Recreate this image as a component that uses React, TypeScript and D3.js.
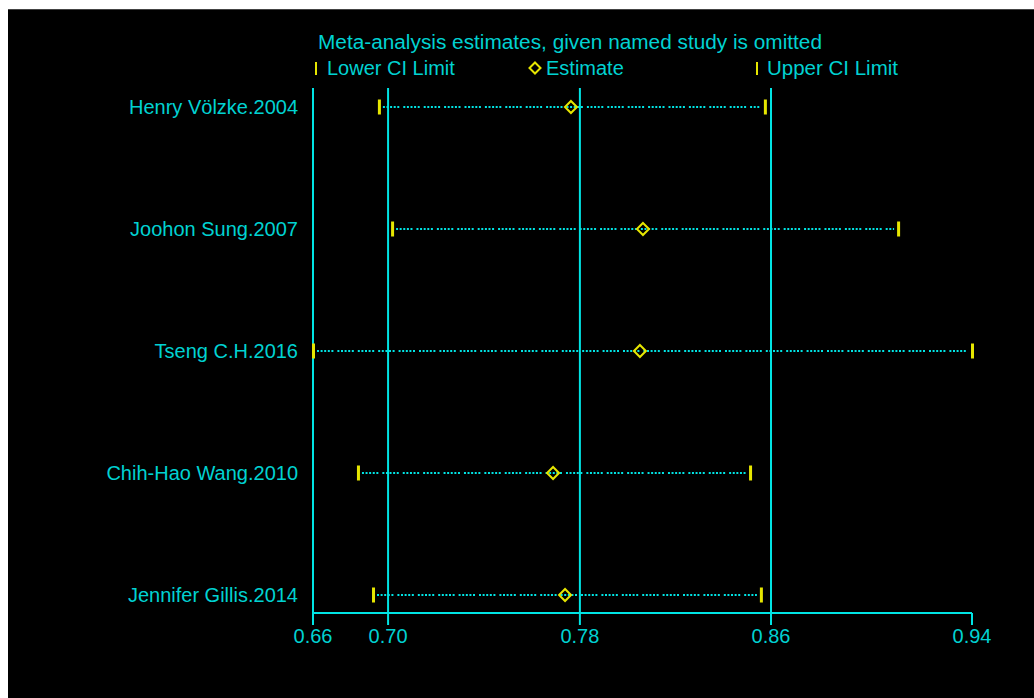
import React from 'react';
import * as d3 from 'd3';

// studies, in plotted order (top to bottom)
const studies = [
  'Henry Völzke.2004',
  'Joohon Sung.2007',
  'Tseng C.H.2016',
  'Chih-Hao Wang.2010',
  'Jennifer Gillis.2014',
];
// estimate with the named study omitted
const lowerCI = [0.688, 0.6936, 0.66, 0.6791, 0.6855];
const estimate = [0.7696, 0.8002, 0.7989, 0.762, 0.7671];
const upperCI = [0.852, 0.9086, 0.94, 0.8457, 0.8503];

// axis ticks: overall min, pooled CI lower, pooled estimate, pooled CI upper, overall max
const tickValues = [0.66, 0.6919, 0.7734, 0.8546, 0.94];
const tickLabels = ['0.66', '0.70', '0.78', '0.86', '0.94'];

const W = 1034;
const H = 698;
const CYAN_TXT = '#00d2d2';
const CYAN = '#00e4e4';
const YELLOW = '#e6e600';
const FONT = '"Liberation Sans", Arial, sans-serif';

export default function App() {
  const x = d3.scaleLinear().domain([0.66, 0.94]).range([313, 972]);
  const y = d3.scalePoint<string>().domain(studies).range([107, 595]);
  const axisY = 613;
  const gridTop = 88;

  const diamond = (cx: number, cy: number, r: number) =>
    `M${cx},${cy - r}L${cx + r},${cy}L${cx},${cy + r}L${cx - r},${cy}Z`;

  const rows = studies.map((s, i) => ({
    name: s,
    lo: lowerCI[i],
    est: estimate[i],
    hi: upperCI[i],
  }));

  return (
    <svg
      width={W}
      height={H}
      style={{ position: 'absolute', left: 0, top: 0, display: 'block' }}
      fontFamily={FONT}
    >
      <rect x={0} y={0} width={W} height={H} fill="#fff" />
      <rect x={8} y={9} width={W - 8} height={H - 9} fill="#000" />
      <line x1={8} x2={W} y1={9.5} y2={9.5} stroke="#444" strokeWidth={1} />

      {/* title + legend */}
      <text x={318} y={49} fontSize={20} fill={CYAN_TXT} textLength={504} lengthAdjust="spacingAndGlyphs">
        Meta-analysis estimates, given named study is omitted
      </text>
      <g>
        <rect x={315} y={62} width={2} height={13} fill={YELLOW} />
        <text x={327} y={75} fontSize={20} fill={CYAN_TXT}>Lower CI Limit</text>
        <path d={diamond(535, 68, 5.5)} fill="none" stroke={YELLOW} strokeWidth={2} />
        <text x={546} y={75} fontSize={20} fill={CYAN_TXT}>Estimate</text>
        <rect x={756} y={62} width={2} height={13} fill={YELLOW} />
        <text x={767} y={75} fontSize={20} fill={CYAN_TXT} textLength={131} lengthAdjust="spacingAndGlyphs">Upper CI Limit</text>
      </g>

      {/* left frame line and pooled reference lines */}
      {tickValues.slice(0, 4).map((t, i) => (
        <line
          key={i}
          x1={x(t)}
          x2={x(t)}
          y1={gridTop}
          y2={axisY + 12}
          stroke={CYAN}
          strokeWidth={2}
        />
      ))}

      {/* x axis */}
      <line x1={x(0.66)} x2={x(0.94)} y1={axisY} y2={axisY} stroke={CYAN} strokeWidth={2} />
      <line x1={x(0.94)} x2={x(0.94)} y1={axisY} y2={axisY + 12} stroke={CYAN} strokeWidth={2} />
      {tickValues.map((t, i) => (
        <text
          key={i}
          x={x(t)}
          y={643}
          fontSize={20}
          fill={CYAN_TXT}
          textAnchor="middle"
        >
          {tickLabels[i]}
        </text>
      ))}

      {/* rows */}
      {rows.map((r) => {
        const cy = y(r.name) as number;
        return (
          <g key={r.name}>
            <text x={298} y={cy + 7} fontSize={20} fill={CYAN_TXT} textAnchor="end">
              {r.name}
            </text>
            <line
              x1={x(r.lo) + 4}
              x2={x(r.hi) - 4}
              y1={cy}
              y2={cy}
              stroke={CYAN}
              strokeWidth={2}
              strokeDasharray="2,1.6,2,1.6,2,1.6,2,1.6,2,4"
            />
            <rect x={x(r.lo) - 1} y={cy - 7.5} width={3} height={15} fill={YELLOW} />
            <rect x={x(r.hi) - 1} y={cy - 7.5} width={3} height={15} fill={YELLOW} />
            <path d={diamond(x(r.est), cy, 6)} fill="none" stroke={YELLOW} strokeWidth={2} />
          </g>
        );
      })}
    </svg>
  );
}
